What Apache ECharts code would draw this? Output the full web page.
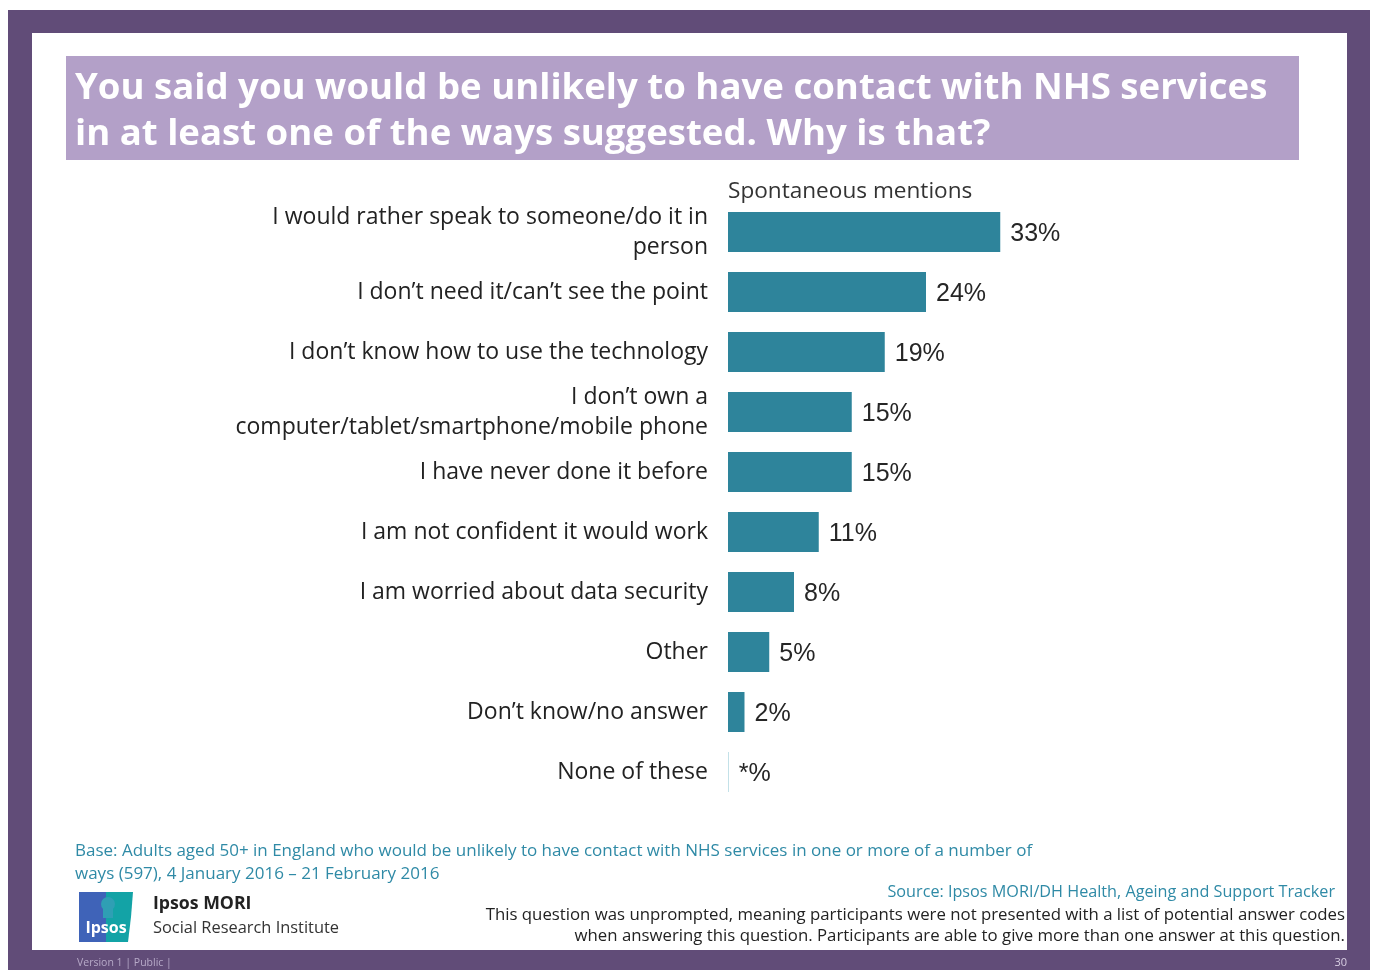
<!DOCTYPE html>
<html>
<head>
<meta charset="utf-8">
<script src="https://cdn.jsdelivr.net/npm/echarts@6/dist/echarts.min.js"></script>
<style>
  html, body { margin: 0; padding: 0; background: #ffffff; }
  #chart { width: 1375px; height: 970px; }
</style>
</head>
<body>
<div id="chart"></div>
<script>
// Reasons for not using remote contact with NHS services (spontaneous mentions, %)
const categories = [
  'I would rather speak to someone/do it in\nperson',
  'I don’t need it/can’t see the point',
  'I don’t know how to use the technology',
  'I don’t own a\ncomputer/tablet/smartphone/mobile phone',
  'I have never done it before',
  'I am not confident it would work',
  'I am worried about data security',
  'Other',
  'Don’t know/no answer',
  'None of these'
];
const values = [33, 24, 19, 15, 15, 11, 8, 5, 2, 0.1];
const valueLabels = ['33%', '24%', '19%', '15%', '15%', '11%', '8%', '5%', '2%', '*%'];

const seriesName = 'Spontaneous mentions';
const titleLines = [
  'You said you would be unlikely to have contact with NHS services',
  'in at least one of the ways suggested. Why is that?'
];
const baseLines = [
  'Base: Adults aged 50+ in England who would be unlikely to have contact with NHS services in one or more of a number of',
  'ways (597), 4 January 2016 – 21 February 2016'
];
const sourceText = 'Source: Ipsos MORI/DH Health, Ageing and Support Tracker';
const noteLines = [
  'This question was unprompted, meaning participants were not presented with a list of potential answer codes',
  'when answering this question. Participants are able to give more than one answer at this question.'
];

const PURPLE = '#614c78';
const LILAC = '#b3a0c8';
const BAR = '#2e849b';
const TEAL_TEXT = '#2f8aa6';
const UI_FONT = '"Open Sans", "Noto Sans", sans-serif';

const chart = echarts.init(document.getElementById('chart'), null, { renderer: 'canvas' });

const graphics = [
  // slide frame
  { type: 'rect', shape: { x: 8, y: 10, width: 1362, height: 960 }, style: { fill: PURPLE }, z: -10 },
  { type: 'rect', shape: { x: 32, y: 33, width: 1315, height: 917 }, style: { fill: '#ffffff' }, z: -9 },
  // title band
  { type: 'rect', shape: { x: 66, y: 56, width: 1233, height: 104 }, style: { fill: LILAC }, z: -8 },
  { type: 'text', x: 75, y: 89, style: { text: titleLines[0], fill: '#ffffff', font: 'bold 36.6px ' + UI_FONT, textVerticalAlign: 'middle' } },
  { type: 'text', x: 75, y: 135, style: { text: titleLines[1], fill: '#ffffff', font: 'bold 36.6px ' + UI_FONT, textVerticalAlign: 'middle' } },
  // series caption above the bars
  { type: 'text', x: 728, y: 192, style: { text: seriesName, fill: '#333333', font: '22.6px ' + UI_FONT, textVerticalAlign: 'middle' } },
  // base note
  { type: 'text', x: 75, y: 851, style: { text: baseLines[0], fill: TEAL_TEXT, font: '17px ' + UI_FONT, textVerticalAlign: 'middle' } },
  { type: 'text', x: 75, y: 874, style: { text: baseLines[1], fill: TEAL_TEXT, font: '17px ' + UI_FONT, textVerticalAlign: 'middle' } },
  // source and method note
  { type: 'text', x: 1335, y: 892, style: { text: sourceText, fill: TEAL_TEXT, font: '16.2px ' + UI_FONT, textAlign: 'right', textVerticalAlign: 'middle' } },
  { type: 'text', x: 1345, y: 915, style: { text: noteLines[0], fill: '#222222', font: '16.8px ' + UI_FONT, textAlign: 'right', textVerticalAlign: 'middle' } },
  { type: 'text', x: 1345, y: 936, style: { text: noteLines[1], fill: '#222222', font: '16.8px ' + UI_FONT, textAlign: 'right', textVerticalAlign: 'middle' } },
  // logo
  { type: 'rect', shape: { x: 79, y: 892, width: 28, height: 50 }, style: { fill: '#3f63b8' } },
  { type: 'polygon', shape: { points: [[106, 892], [133, 892], [131, 917], [128, 942], [106, 942]] }, style: { fill: '#13a3a6' } },
  { type: 'circle', shape: { cx: 108, cy: 904, r: 7 }, style: { fill: '#2f9fb4' } },
  { type: 'rect', shape: { x: 103, y: 908, width: 10, height: 10 }, style: { fill: '#2f9fb4' } },
  { type: 'text', x: 106, y: 928, style: { text: 'Ipsos', fill: '#ffffff', font: 'bold 16px ' + UI_FONT, textAlign: 'center', textVerticalAlign: 'middle' } },
  { type: 'text', x: 153, y: 904, style: { text: 'Ipsos MORI', fill: '#222222', font: 'bold 17.7px ' + UI_FONT, textVerticalAlign: 'middle' } },
  { type: 'text', x: 153, y: 928, style: { text: 'Social Research Institute', fill: '#333333', font: '16.4px ' + UI_FONT, textVerticalAlign: 'middle' } },
  // footer strip
  { type: 'text', x: 77, y: 963, style: { text: 'Version 1 | Public |', fill: '#b7aac8', font: '10.5px ' + UI_FONT, textVerticalAlign: 'middle' } },
  { type: 'text', x: 1347, y: 963, style: { text: '30', fill: '#d8cfe3', font: '11px ' + UI_FONT, textAlign: 'right', textVerticalAlign: 'middle' } }
];

chart.setOption({
  animation: false,
  backgroundColor: '#ffffff',
  graphic: graphics,
  grid: { left: 728, top: 202, width: 330, height: 600, containLabel: false },
  xAxis: {
    type: 'value', min: 0, max: 40, show: false
  },
  yAxis: {
    type: 'category',
    data: categories,
    inverse: true,
    axisLine: { show: false },
    axisTick: { show: false },
    axisLabel: {
      margin: 20,
      color: '#222222',
      fontFamily: UI_FONT,
      fontSize: 23,
      lineHeight: 30,
      verticalAlign: 'middle',
      padding: [5, 0, 0, 0],
      align: 'right'
    }
  },
  series: [{
    name: seriesName,
    type: 'bar',
    data: values.map((v, i) => i === values.length - 1
      ? { value: v, itemStyle: { color: '#b6dbe4' } }
      : v),
    barWidth: 40,
    itemStyle: { color: BAR },
    label: {
      show: true,
      position: 'right',
      distance: 10,
      offset: [0, 2],
      color: '#262626',
      fontFamily: '"Liberation Sans", Arial, sans-serif',
      fontSize: 25,
      formatter: p => valueLabels[p.dataIndex]
    }
  }]
});
</script>
</body>
</html>
